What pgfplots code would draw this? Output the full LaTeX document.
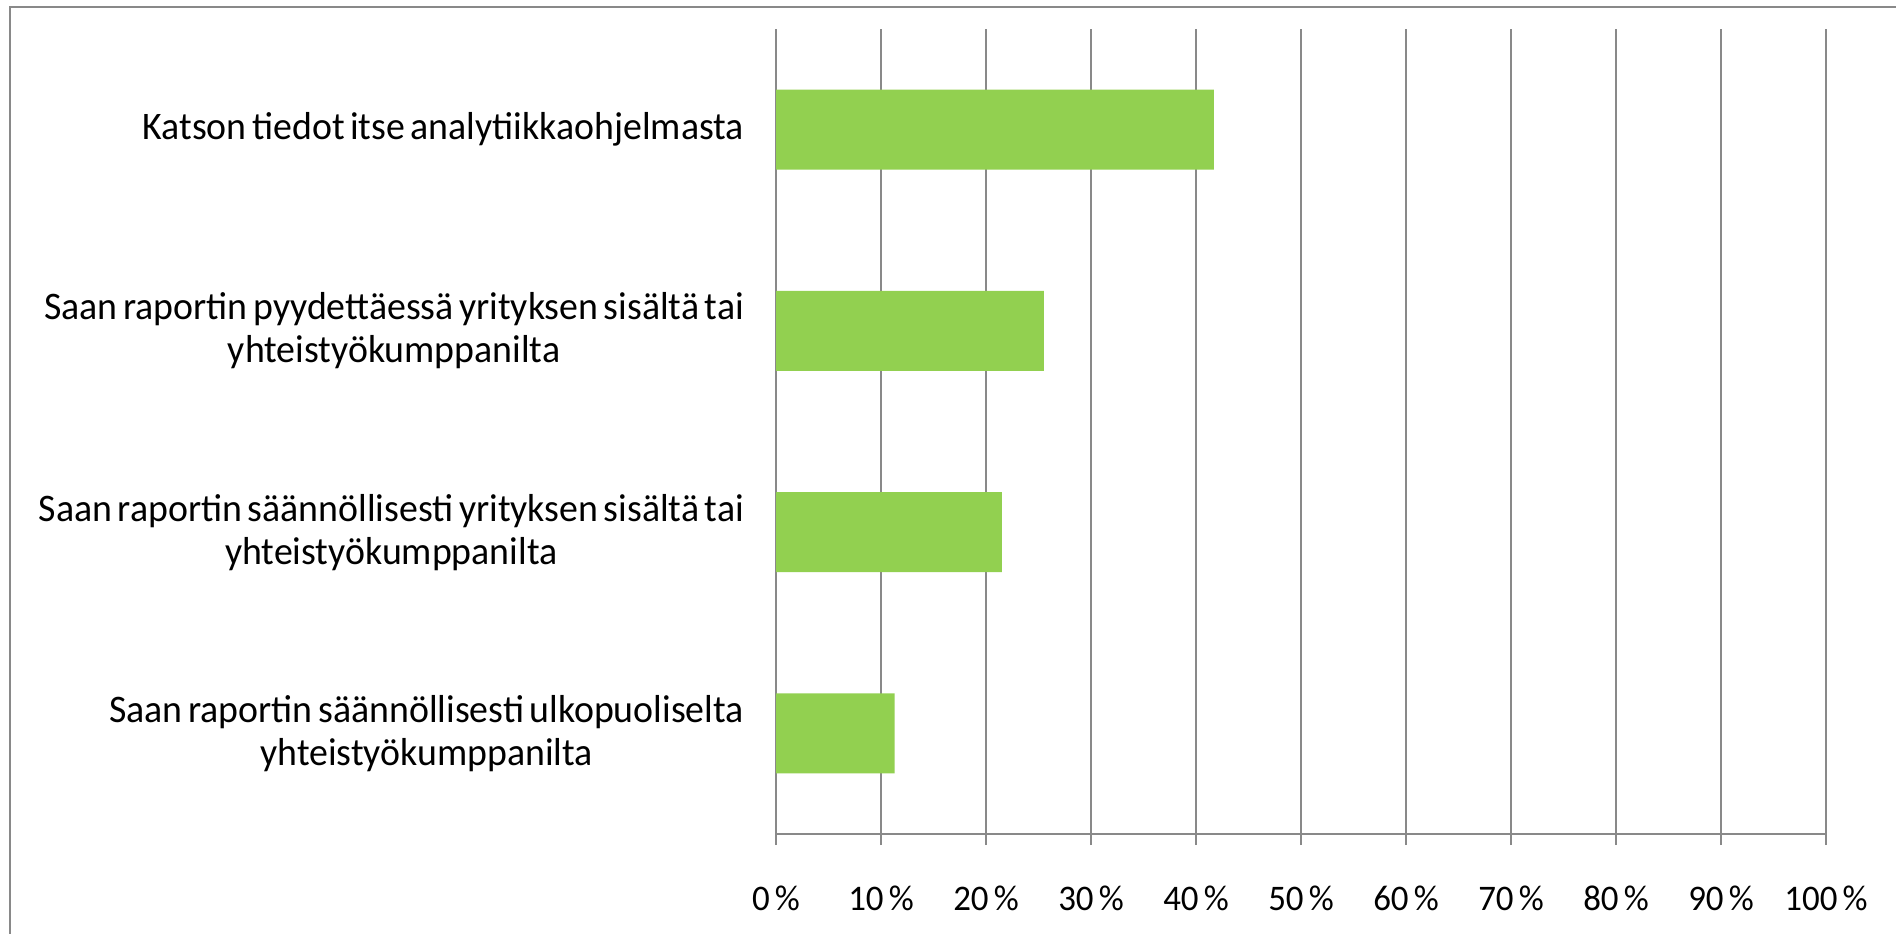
\documentclass[border=0pt]{standalone}
\usepackage{pgfplots}
\pgfplotsset{compat=1.18}
\usepackage{fontspec}
\setmainfont[WordSpace=0.65, FakeStretch=0.97]{Carlito}
\definecolor{bargreen}{HTML}{92D050}
\definecolor{axgray}{HTML}{898989}
\begin{document}
\begin{tikzpicture}
\useasboundingbox (0,0) rectangle (948bp,467bp);
\draw[axgray, line width=1bp] (5bp,0) -- (5bp,463.5bp) -- (948bp,463.5bp);
\begin{axis}[
  at={(388bp,50bp)}, anchor=south west,
  scale only axis, width=525bp, height=402.5bp,
  xbar, bar width=40bp,
  xmin=0, xmax=100,
  ymin=-0.5, ymax=3.5,
  axis x line*=bottom, axis y line*=left,
  axis line style={axgray, line width=1bp},
  xtick={0,10,...,100},
  xticklabels={0 \%,10 \%,20 \%,30 \%,40 \%,50 \%,60 \%,70 \%,80 \%,90 \%,100 \%},
  xmajorgrids, grid style={axgray, line width=0.6bp},
  tick align=outside, major tick length=5.5bp,
  tick style={axgray, line width=0.6bp},
  xticklabel style={yshift=-17bp, font=\fontsize{18bp}{21bp}\selectfont},
  ytick={0,1,2,3},
  yticklabels={{Saan raportin säännöllisesti ulkopuoliselta\\yhteistyökumppanilta},
               {Saan raportin säännöllisesti yrityksen sisältä tai\\yhteistyökumppanilta},
               {Saan raportin pyydettäessä yrityksen sisältä tai\\yhteistyökumppanilta},
               {Katson tiedot itse analytiikkaohjelmasta}},
  yticklabel style={align=center, xshift=-7bp, font=\fontsize{19.5bp}{21.5bp}\selectfont},
  ytick style={draw=none},
  extra y ticks={-0.5,0.5,1.5,2.5,3.5},
  extra y tick labels={},
  extra y tick style={tick style={axgray, line width=0.6bp}, grid=none},
]
\addplot[fill=bargreen, draw=none] coordinates {(11.3,0) (21.5,1) (25.5,2) (41.7,3)};
\end{axis}
\end{tikzpicture}
\end{document}
